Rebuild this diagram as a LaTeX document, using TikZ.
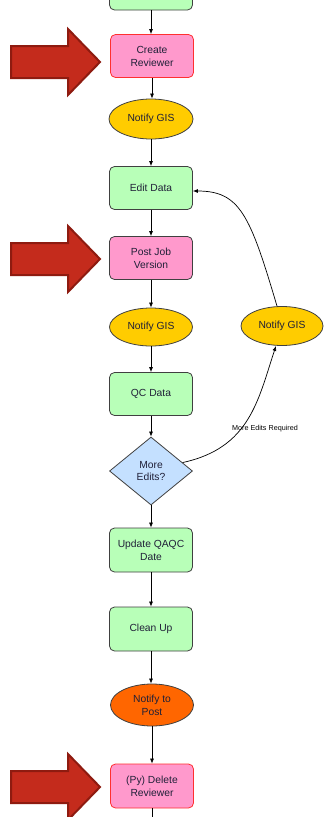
\documentclass[tikz,border=0pt]{standalone}
\usepackage{fontspec}
\setmainfont{Liberation Sans}
\usetikzlibrary{shapes.geometric,arrows.meta}
\definecolor{boxgreen}{HTML}{B8FFB8}
\definecolor{boxpink}{HTML}{FF99CC}
\definecolor{boxyellow}{HTML}{FFCC00}
\definecolor{boxblue}{HTML}{C4E0FF}
\definecolor{boxorange}{HTML}{FF6600}
\definecolor{edgegray}{HTML}{404040}
\definecolor{edgered}{HTML}{FF3030}
\definecolor{arrfill}{HTML}{C42B1C}
\definecolor{arrline}{HTML}{8E1B10}
\definecolor{txt}{HTML}{202038}
\newcommand\bigarrow[1]{%
  \draw[bigarr] (11,{#1-16}) -- (68,{#1-16}) -- (68,{#1-33}) -- (100,#1) -- (68,{#1+33}) -- (68,{#1+16}) -- (11,{#1+16}) -- cycle;}
\begin{document}
\begin{tikzpicture}[x=1pt,y=-1pt,
  every node/.style={font=\fontsize{10.3}{13}\selectfont, text=txt, align=center, inner sep=0pt},
  proc/.style={draw=edgegray, line width=0.8pt, rounded corners=5pt, minimum width=83pt, minimum height=43pt},
  greenbox/.style={proc, fill=boxgreen},
  pinkbox/.style={proc, fill=boxpink},
  pinkred/.style={proc, fill=boxpink, draw=edgered},
  notify/.style={ellipse, draw=edgegray, line width=0.8pt, fill=boxyellow, minimum width=84pt, minimum height=40pt},
  decision/.style={diamond, draw=edgegray, line width=0.8pt, fill=boxblue, minimum width=83pt, minimum height=68pt},
  conn/.style={draw=black, line width=0.7pt, -{Latex[length=5pt,width=4pt]}},
  bigarr/.style={fill=arrfill, draw=arrline, line width=2pt, line join=miter},
  lbl/.style={font=\fontsize{7.2}{8}\selectfont, text=black}
]
\useasboundingbox (0,0) rectangle (324,817);
\clip (0,0) rectangle (324,817);
\fill[white] (0,0) rectangle (324,817);

\node[greenbox, minimum height=44pt] (top) at (151,-12) {};
\node[pinkred] (cr) at (152,56) {Create\\Reviewer};
\node[notify] (n1) at (151,119) {Notify GIS};
\node[greenbox] (ed) at (151,188) {Edit Data};
\node[pinkbox] (pj) at (151,258) {Post Job\\Version};
\node[notify, minimum width=83pt, minimum height=38pt] (n2) at (151,327) {Notify GIS};
\node[notify, minimum width=82pt, minimum height=39pt] (ngr) at (282,326) {Notify GIS};
\node[greenbox] (qc) at (151,394) {QC Data};
\node[decision] (dm) at (151,471) {More\\Edits?};
\node[greenbox, minimum height=44pt] (up) at (151,550) {Update QAQC\\Date};
\node[greenbox, minimum height=44pt] (cu) at (151,629) {Clean Up};
\node[notify, fill=boxorange, minimum width=83pt, minimum height=42pt] (np) at (152,705) {Notify to\\Post};
\node[pinkred, minimum height=44pt] (dr) at (152,786) {(Py) Delete\\Reviewer};
\coordinate (bot) at (152,830);

\path[conn] (top.south) -- (top.south |- cr.north);
\path[conn] (cr.south) -- (cr.south |- n1.north);
\path[conn] (n1.south) -- (n1.south |- ed.north);
\path[conn] (ed.south) -- (ed.south |- pj.north);
\path[conn] (pj.south) -- (pj.south |- n2.north);
\path[conn] (n2.south) -- (n2.south |- qc.north);
\path[conn] (qc.south) -- (qc.south |- dm.north);
\path[conn] (dm.south) -- (dm.south |- up.north);
\path[conn] (up.south) -- (up.south |- cu.north);
\path[conn] (cu.south) -- (cu.south |- np.north);
\path[conn] (np.south) -- (np.south |- dr.north);
\draw[line width=0.7pt] (dr.south) -- (dr.south |- bot);

\path[conn] ([xshift=-5pt]ngr.north) .. controls (250,215) and (240,191) .. ([yshift=-3pt]ed.east);
\path[conn] (dm.15) .. controls (250,448) and (258,400) .. ([xshift=-6pt]ngr.south);
\node[lbl] (mer) at (265,429) {More Edits Required};

\bigarrow{62}
\bigarrow{259}
\bigarrow{787}
\end{tikzpicture}
\end{document}
